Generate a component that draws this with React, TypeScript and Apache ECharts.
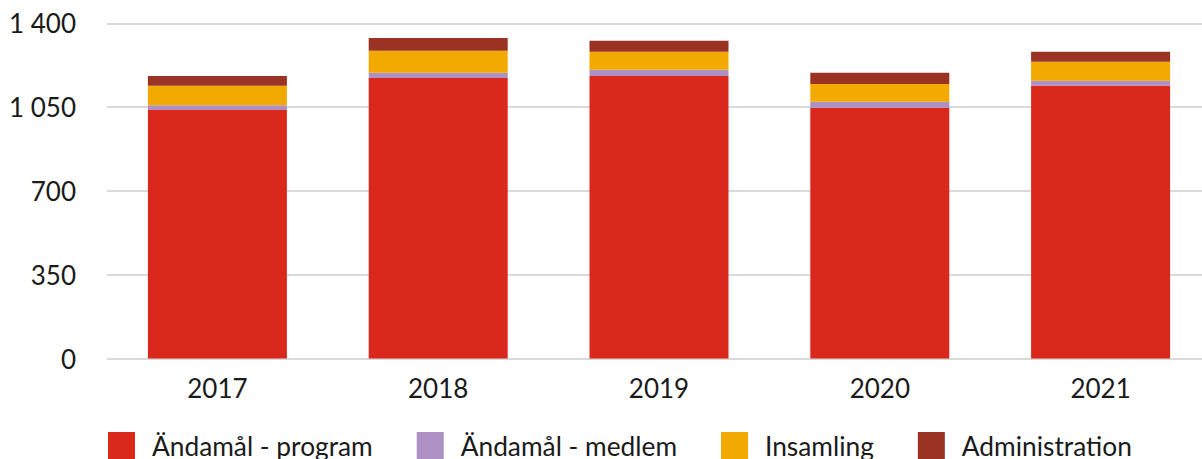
import React, { useEffect, useRef } from "react";
import * as echarts from "echarts";

const years = ["2017", "2018", "2019", "2020", "2021"];
const program = [1038, 1172, 1180, 1047, 1139];
const medlem = [20, 21, 26, 25, 21];
const insamling = [81, 92, 75, 75, 79];
const administration = [41, 54, 46, 46, 42];

const seriesNames = ["Ändamål - program", "Ändamål - medlem", "Insamling", "Administration"];
const colors = ["#DA291C", "#AE90C4", "#F2A900", "#9A3324"];

const fmt = (v: number) => String(v).replace(/\B(?=(\d{3})+(?!\d))/g, " ");

export default function App() {
  const ref = useRef<HTMLDivElement>(null);
  useEffect(() => {
    if (!ref.current) return;
    const chart = echarts.init(ref.current, undefined, { renderer: "svg" });
    const data = [program, medlem, insamling, administration];
    chart.setOption({
      animation: false,
      textStyle: { fontFamily: "Lato", color: "#1a1a1a" },
      grid: { left: 107, top: 23.3, width: 1104, height: 335.2, containLabel: false },
      legend: {
        left: 108,
        top: 432,
        padding: 0,
        itemWidth: 27,
        itemHeight: 27,
        itemGap: 44,
        icon: "rect",
        textStyle: { fontSize: 26.3, color: "#1a1a1a", fontFamily: "Lato", padding: [0, 0, 0, 12] },
        data: seriesNames,
      },
      xAxis: {
        type: "category",
        data: years,
        axisLine: { show: false },
        axisTick: { show: false },
        axisLabel: { fontSize: 26, color: "#1a1a1a", fontFamily: "Lato", margin: 16 },
      },
      yAxis: {
        type: "value",
        min: 0,
        max: 1400,
        interval: 350,
        axisLine: { show: false },
        axisTick: { show: false },
        splitLine: { lineStyle: { color: "#d9d9d9", width: 2 } },
        axisLabel: {
          fontSize: 26,
          color: "#1a1a1a",
          fontFamily: "Lato",
          margin: 31,
          formatter: (v: number) => fmt(v),
        },
      },
      series: seriesNames.map((name, i) => ({
        name,
        type: "bar",
        stack: "total",
        barWidth: 139,
        itemStyle: { color: colors[i] },
        data: data[i],
      })),
    });
    return () => chart.dispose();
  }, []);
  return (
    <div
      style={{
        position: "fixed",
        left: 0,
        top: 0,
        width: 1202,
        height: 459,
        overflow: "hidden",
        background: "#fff",
      }}
    >
      <div ref={ref} style={{ width: 1212, height: 459 }} />
    </div>
  );
}
